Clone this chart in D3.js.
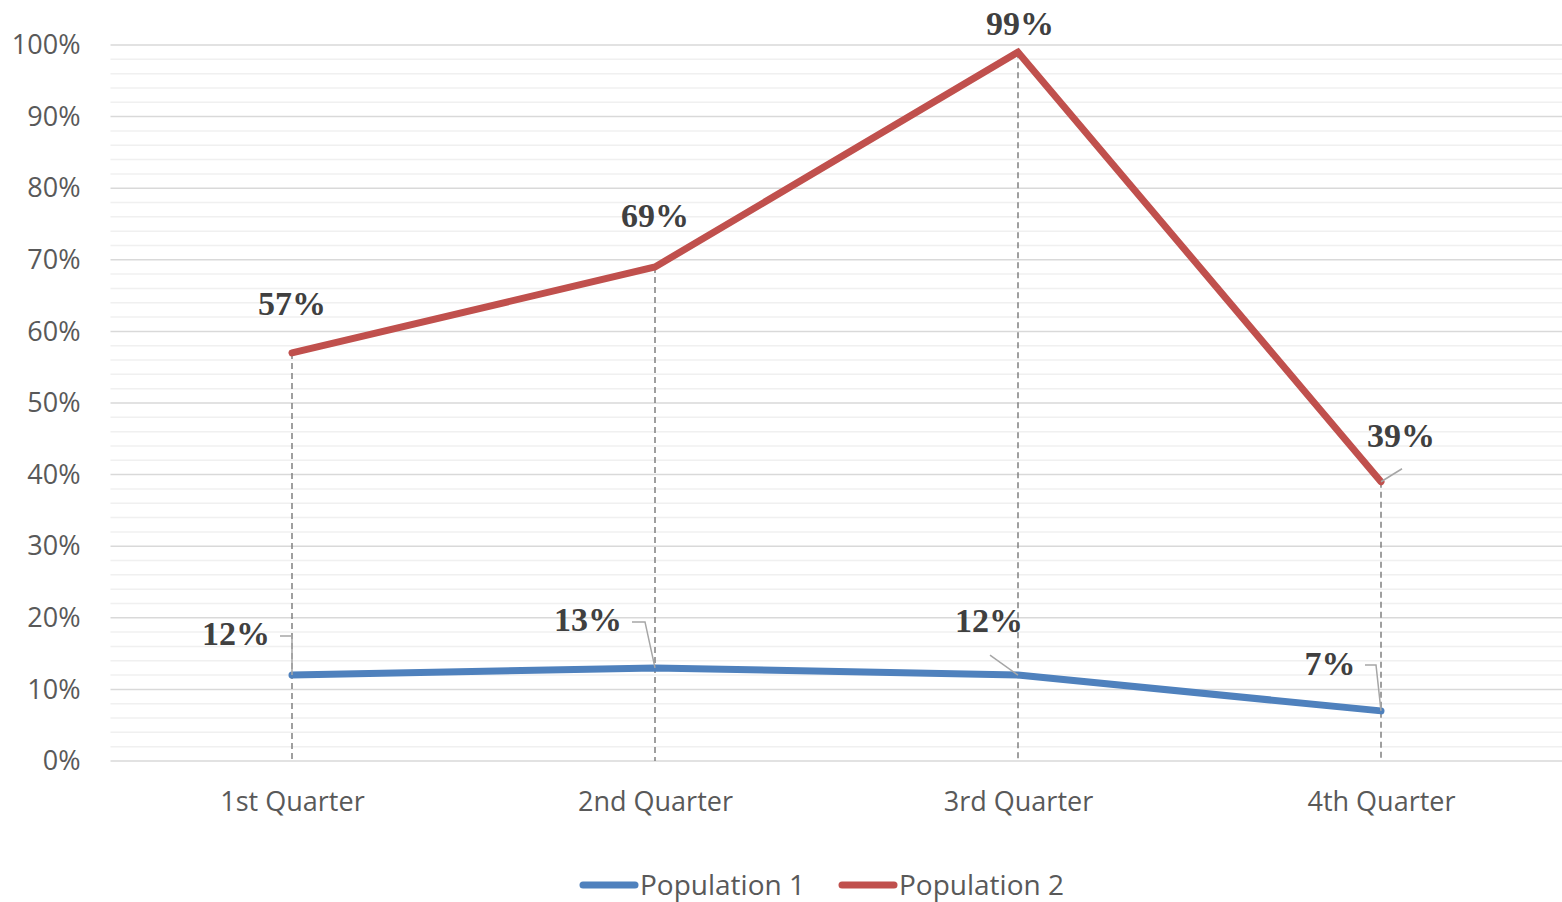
<!DOCTYPE html>
<html>
<head>
<meta charset="utf-8">
<script src="https://cdn.jsdelivr.net/npm/d3@7"></script>
<style>
  body { margin: 0; background: #fff; }
  svg { display: block; }
</style>
</head>
<body>
<div id="chart"></div>
<script>
const quarters = ['1st Quarter', '2nd Quarter', '3rd Quarter', '4th Quarter']
const population1 = [12, 13, 12, 7]
const population2 = [57, 69, 99, 39]
const seriesNames = ['Population 1', 'Population 2']
const yTicks = [0, 10, 20, 30, 40, 50, 60, 70, 80, 90, 100]

const svg_width = 1562
const svg_height = 902
const plot_left = 110.5
const plot_right = 1562.5
const plot_top = 45
const plot_bottom = 761
const colors = ['#4F81BD', '#C0504D']
const label_font = "'Liberation Serif', 'DejaVu Serif', serif"
const axis_font = "'Open Sans', 'Liberation Sans', sans-serif"

const xScale = d3.scalePoint()
        .domain(quarters)
        .range([plot_left, plot_right])
        .padding(0.5)

const yScale = d3.scaleLinear()
        .domain([0, 100])
        .range([plot_bottom, plot_top])

const svg = d3.select('#chart')
            .append('svg')
            .attr('width', svg_width)
            .attr('height', svg_height)

// minor gridlines every 2%
svg.append('g')
   .selectAll('line')
   .data(d3.range(0, 101, 2).filter(v => v % 10 !== 0))
   .join('line')
      .attr('x1', plot_left).attr('x2', plot_right)
      .attr('y1', d => yScale(d)).attr('y2', d => yScale(d))
      .attr('stroke', '#f0f0f0')
      .attr('stroke-width', 1.5)

// major gridlines
svg.append('g')
   .selectAll('line')
   .data(yTicks)
   .join('line')
      .attr('x1', plot_left).attr('x2', plot_right)
      .attr('y1', d => yScale(d)).attr('y2', d => yScale(d))
      .attr('stroke', '#d9d9d9')
      .attr('stroke-width', 1.5)

// y axis labels
const yAxis = svg.append('g')
   .attr('transform', `translate(${plot_left - 30},0)`)
   .call(d3.axisLeft(yScale).tickValues(yTicks).tickFormat(d => d + '%').tickSize(0).tickPadding(0))
yAxis.select('.domain').remove()
yAxis.selectAll('text')
   .attr('fill', '#595959')
   .attr('font-family', axis_font)
   .attr('font-size', '27px')

// x axis labels
const xAxis = svg.append('g')
   .attr('transform', `translate(0,${plot_bottom})`)
   .call(d3.axisBottom(xScale).tickSize(0).tickPadding(31))
xAxis.select('.domain').remove()
xAxis.selectAll('text')
   .attr('fill', '#595959')
   .attr('font-family', axis_font)
   .attr('font-size', '27px')

// drop lines from the highest point down to the axis
svg.append('g')
   .selectAll('line')
   .data(quarters)
   .join('line')
      .attr('x1', d => xScale(d)).attr('x2', d => xScale(d))
      .attr('y1', (d, i) => yScale(Math.max(population1[i], population2[i])))
      .attr('y2', plot_bottom)
      .attr('stroke', '#808080')
      .attr('stroke-width', 1.5)
      .attr('stroke-dasharray', '6,4')

// lines
const line = d3.line()
      .x((d, i) => xScale(quarters[i]))
      .y(d => yScale(d))

;[population1, population2].forEach((values, s) => {
  svg.append('path')
     .datum(values)
     .attr('d', line)
     .attr('fill', 'none')
     .attr('stroke', colors[s])
     .attr('stroke-width', 7)
     .attr('stroke-linecap', 'round')
     .attr('stroke-linejoin', 'miter')
})

// data label offsets (label anchor relative to the point) and leader line paths
const labelLayout = [
  // population 1
  [
    { dx: -22, dy: -30, anchor: 'end', leader: [[-12, -39], [0, -39], [0, 0]] },
    { dx: -33, dy: -37, anchor: 'end', leader: [[-23, -46], [-10, -46], [0, 0]] },
    { dx: -29, dy: -43, anchor: 'middle', leader: [[-28, -20], [0, 0]] },
    { dx: -51, dy: -36, anchor: 'middle', leader: [[-16, -46], [-5, -46], [0, 0]] }
  ],
  // population 2
  [
    { dx: 0, dy: -38, anchor: 'middle' },
    { dx: 0, dy: -40, anchor: 'middle' },
    { dx: 2, dy: -17, anchor: 'middle' },
    { dx: 20, dy: -35, anchor: 'middle', leader: [[0, 0], [21, -13]] }
  ]
]

;[population1, population2].forEach((values, s) => {
  values.forEach((v, i) => {
    const px = xScale(quarters[i])
    const py = yScale(v)
    const lay = labelLayout[s][i]
    if (lay.leader) {
      svg.append('path')
         .attr('d', d3.line()(lay.leader.map(p => [px + p[0], py + p[1]])))
         .attr('fill', 'none')
         .attr('stroke', '#a6a6a6')
         .attr('stroke-width', 1.5)
    }
    svg.append('text')
       .attr('x', px + lay.dx)
       .attr('y', py + lay.dy)
       .attr('text-anchor', lay.anchor)
       .attr('fill', '#404040')
       .attr('font-family', label_font)
       .attr('font-weight', 'bold')
       .attr('font-size', '34px')
       .text(v + '%')
  })
})

// legend
const legend = svg.append('g')
   .attr('transform', 'translate(0,885)')
const legendX = [583, 842]
seriesNames.forEach((name, s) => {
  legend.append('line')
     .attr('x1', legendX[s]).attr('x2', legendX[s] + 52)
     .attr('y1', 0).attr('y2', 0)
     .attr('stroke', colors[s])
     .attr('stroke-width', 7)
     .attr('stroke-linecap', 'round')
  legend.append('text')
     .attr('x', legendX[s] + 57)
     .attr('y', 0)
     .attr('dy', '0.35em')
     .attr('fill', '#595959')
     .attr('font-family', axis_font)
     .attr('font-size', '28px')
     .text(name)
})
</script>
</body>
</html>
